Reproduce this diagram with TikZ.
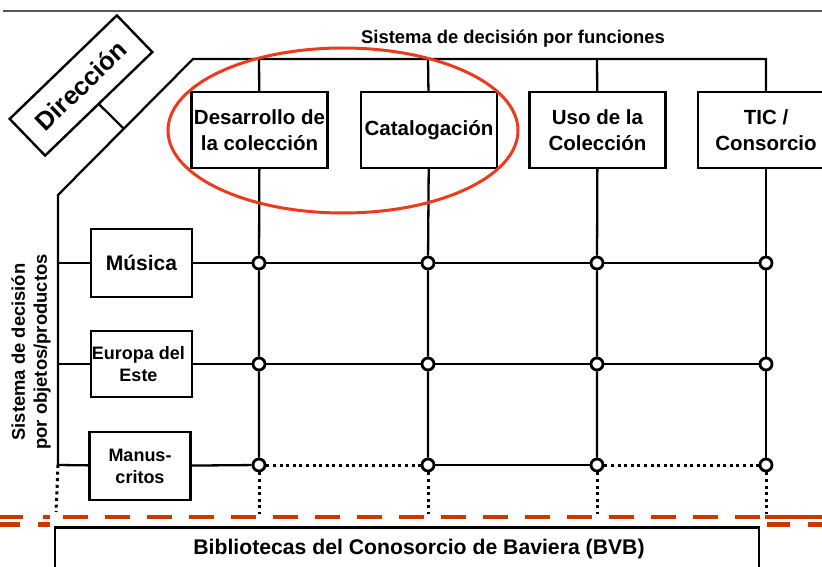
\documentclass[tikz,border=0pt]{standalone}
\usepackage{fontspec}
\setmainfont{Liberation Sans}
\usepackage{xcolor}
\definecolor{ring-red}{RGB}{238,58,28}
\definecolor{dash-red}{RGB}{204,55,0}
\usepackage{tikz}
\usetikzlibrary{calc}

\newcommand{\fsz}[2]{\fontsize{#1}{#2}\selectfont\bfseries}

\begin{document}
\begin{tikzpicture}[x=1pt,y=-1pt,
	grid/.style={line width=2.3pt},
	funcbox/.style={draw,line width=2.4pt,fill=white,minimum width=136pt,minimum height=76pt,
		align=center,inner sep=0pt,font=\fsz{20.5}{26}},
	rowbox/.style={draw,line width=2.4pt,fill=white,minimum width=101pt,minimum height=68pt,
		align=center,inner sep=0pt},
	knot/.style={circle,draw,line width=2.8pt,fill=white,minimum size=12pt,inner sep=0pt},
	dots/.style={line width=3pt,dash pattern=on 3pt off 3.6pt},
	bar/.style={dash-red,line width=4.5pt}]
	\clip (0,0) rectangle (822,567);
	
	\draw[gray!70!black,line width=1.5pt] (3,11) -- (822,11);
	
	\node[font=\fsz{18.4}{22}] (head) at (513,39) {Sistema de decisión por funciones};
	\node[rotate=90,align=center,font=\fsz{18.4}{22}] (objs) at (31,352)
	{Sistema de decisión\\por objetos/productos};
	
	\node[draw,line width=2.4pt,rotate=44,minimum width=149pt,minimum height=51pt,
	font=\fsz{25.5}{26}] (dir) at (81,85.5) {Dirección};
	
	\coordinate (dl) at (58,195);
	\coordinate (tl) at (193,59);
	
	\node[funcbox] (f1) at (259.5,130) {Desarrollo de\\la colección};
	\node[funcbox] (f2) at (429,130) {Catalogación};
	\node[funcbox] (f3) at (597.5,130) {Uso de la\\Colección};
	\node[funcbox] (f4) at (766,130) {TIC /\\Consorcio};
	
	\node[rowbox,font=\fsz{21}{24}] (r1) at (141.5,263) {Música};
	\node[rowbox,font=\fsz{18}{22},minimum height=66pt] (r2) at (141.5,364)
	{\hspace*{-6pt}Europa del\\\hspace*{-6pt}Este};
	\node[rowbox,font=\fsz{18}{22}] (r3) at (140,466) {Manus-\\critos};
	
	\foreach \x/\n in {259/1,428/2,597/3,766/4}{
		\coordinate (t\n) at (\x,59);
		\coordinate (b\n) at (\x,514);
		\foreach \y/\m in {263/1,364/2,465/3}
		\node[knot] (k\m\n) at (\x,\y) {};
	}
	\foreach \y/\m in {263/1,364/2,465/3}
	\coordinate (l\m) at (58,\y);
	\coordinate (b0) at (56,512);
	
%	================================================
	\draw[grid] (l3) -- (dl) -- (tl) -- (t4) -- (f4);
	\draw[grid] (dir.south) -- ($(dl)!(dir.south)!(tl)$);
	\foreach \n in {1,2,3}
	\draw[grid] (t\n) -- (f\n);
	\foreach \n in {1,2,3,4}
	\draw[grid] (f\n) -- (k1\n) -- (k2\n) -- (k3\n);
	\foreach \m in {1,2}
	\draw[grid] (l\m) -- (r\m) (r\m) -- (k\m1) -- (k\m2) -- (k\m3) -- (k\m4);
	\draw[grid] (l3) -- (r3) (r3) -- (k31);
	\draw[grid] (k32) -- (k33);
	\draw[dots] (k31) -- (k32);
	\draw[dots] (k33) -- (k34);
	\foreach \n in {1,2,3,4}
	\draw[dots] (k3\n) -- (b\n);
	\draw[dots] (l3) -- (b0);
	
	\draw[ring-red,line width=3pt] (343,130.5) ellipse [x radius=175, y radius=82.5];
	
%	================================================
	\draw[bar,dash pattern=on 25pt off 17pt] (63,517) -- (760,517);
	\draw[bar] (0,517) -- (23,517) (43,517) -- (50,517) (765,517) -- (822,517);
	\draw[bar] (0,524.5) -- (20,524.5) (38,524.5) -- (50,524.5)
	(767,524.5) -- (790,524.5) (808,524.5) -- (822,524.5);
	
	\node[draw,line width=2.5pt,anchor=north,minimum width=704pt,minimum height=46pt]
	(bvb) at (407,526) {};
	\node[font=\fsz{21.2}{24}] (bvb-text) at (419,549)
	{Bibliotecas del Conosorcio de Baviera (BVB)};
	
\end{tikzpicture}
\end{document}
